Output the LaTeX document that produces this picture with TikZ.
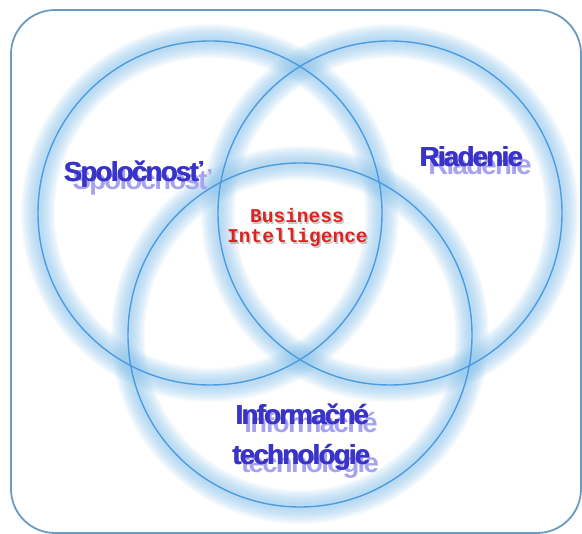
\documentclass[tikz,border=0pt]{standalone}
\usepackage{fontspec}
\newfontfamily\labelfont{Liberation Sans}[LetterSpace=-6]
\newfontfamily\bifont{Liberation Mono}
\definecolor{frame}{HTML}{6A9CC2}
\definecolor{ringline}{HTML}{4A9BDF}
\definecolor{halo}{HTML}{86C3EE}
\definecolor{lblmain}{HTML}{3A33C8}
\definecolor{lblshade}{HTML}{A6A2F0}
\definecolor{bired}{HTML}{DD2222}
\newcommand\heavytext[1]{\makebox[0pt][l]{\hspace{0.8pt}#1}#1}
\tikzset{
  lbl/.style={inner sep=0pt, anchor=base, text=lblmain, font=\labelfont\bfseries\fontsize{27.5}{30}\selectfont},
  lblshadow/.style={lbl, text=lblshade},
  bitext/.style={inner sep=0pt, anchor=base, text=bired, font=\bifont\bfseries\fontsize{19.5}{20}\selectfont},
  bishadow/.style={bitext, text=black, opacity=0.22},
  ring/.style={draw=ringline, line width=1.4pt},
}
\begin{document}
\begin{tikzpicture}[x=1pt,y=-1pt]
\useasboundingbox (0,0) rectangle (582,534);
\fill[white] (0,0) rectangle (582,534);
\draw[frame, line width=1.8pt, rounded corners=44pt] (11,10) rectangle (581,533);
\coordinate (c1) at (210,213);
\coordinate (c2) at (390,213);
\coordinate (c3) at (300,335);
\foreach \c in {c1,c2,c3}{
  \foreach \w in {34,31,28,25,22,19,16,13,10,7}{
    \draw[halo, line width=\w pt, opacity=0.075] (\c) circle (172);
  }
}
\foreach \c in {c1,c2,c3}{
  \draw[ring] (\c) circle (172);
}
% labels with shadows
\node[lblshadow] (spolS) at (142,190) {Spoločnosť};
\node[lbl] (spol) at (133,182) {\heavytext{Spoločnosť}};
\node[lblshadow] (riadS) at (480,175) {Riadenie};
\node[lbl] (riad) at (471,167) {\heavytext{Riadenie}};
\node[lblshadow] (infS) at (311,433) {Informačné};
\node[lbl] (inf) at (302,425) {\heavytext{Informačné}};
\node[lblshadow] (techS) at (310,473) {technológie};
\node[lbl] (tech) at (301,465) {\heavytext{technológie}};
% Business Intelligence
\node[bishadow] (busS) at (298.5,224.5) {Business};
\node[bitext] (bus) at (297,223) {Business};
\node[bishadow] (intS) at (299,244.5) {Intelligence};
\node[bitext] (int) at (297.5,243) {Intelligence};
\end{tikzpicture}
\end{document}
